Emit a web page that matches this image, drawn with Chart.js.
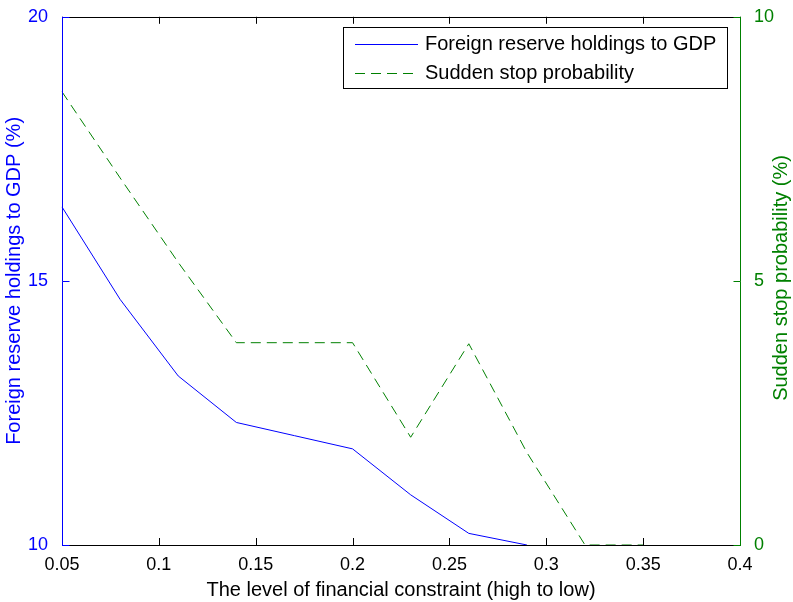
<!DOCTYPE html>
<html>
<head>
<meta charset="utf-8">
<script src="https://cdn.jsdelivr.net/npm/chart.js@4.4.0/dist/chart.umd.min.js"></script>
<style>
  html, body { margin: 0; padding: 0; background: #fff; }
</style>
</head>
<body>
<canvas id="chart" width="793" height="602"></canvas>
<script>
// values
const constraintLevels = [0.05, 0.08, 0.11, 0.14, 0.17, 0.2, 0.23, 0.26, 0.29, 0.32, 0.35];
const reserveToGdp = [16.4, 14.65, 13.2, 12.32, 12.07, 11.82, 10.95, 10.22, 10.0];
const suddenStopProb = [8.58, 6.95, 5.35, 3.83, 3.83, 3.83, 2.04, 3.81, 1.75, 0, 0];

const xTicks = [0.05, 0.1, 0.15, 0.2, 0.25, 0.3, 0.35, 0.4];
const leftTicks = [10, 15, 20];
const rightTicks = [0, 5, 10];

const BLUE = '#0000ff';
const GREEN = '#008000';
const FONT = '"Liberation Sans", Arial, sans-serif';
const tickLen = 7;
const rightTitle = 'Sudden stop probability (%)';

function toPoints(xs, ys) {
  return ys.map((y, i) => ({ x: xs[i], y: y }));
}

const boxAndLegend = {
  id: 'boxAndLegend',
  afterDatasetsDraw(chart) {
    const { ctx, chartArea: a, scales } = chart;
    ctx.save();
    ctx.lineWidth = 1;

    // x ticks, bottom and top, pointing inward
    ctx.strokeStyle = '#000';
    ctx.beginPath();
    scales.x.ticks.forEach(t => {
      const px = Math.round(scales.x.getPixelForValue(t.value)) + 0.5;
      ctx.moveTo(px, a.bottom); ctx.lineTo(px, a.bottom - tickLen);
      ctx.moveTo(px, a.top); ctx.lineTo(px, a.top + tickLen);
    });
    ctx.moveTo(a.left, Math.round(a.top) + 0.5); ctx.lineTo(a.right, Math.round(a.top) + 0.5);
    ctx.moveTo(a.left, Math.round(a.bottom) + 0.5); ctx.lineTo(a.right, Math.round(a.bottom) + 0.5);
    ctx.stroke();

    // left axis
    ctx.strokeStyle = BLUE;
    ctx.beginPath();
    const lx = Math.round(a.left) + 0.5;
    ctx.moveTo(lx, a.top); ctx.lineTo(lx, a.bottom + 1);
    scales.y.ticks.forEach(t => {
      const py = Math.round(scales.y.getPixelForValue(t.value)) + 0.5;
      ctx.moveTo(lx, py); ctx.lineTo(lx + tickLen, py);
    });
    ctx.stroke();

    // right axis
    ctx.strokeStyle = GREEN;
    ctx.beginPath();
    const rx = Math.round(a.right) + 0.5;
    ctx.moveTo(rx, a.top); ctx.lineTo(rx, a.bottom + 1);
    scales.y1.ticks.forEach(t => {
      const py = Math.round(scales.y1.getPixelForValue(t.value)) + 0.5;
      ctx.moveTo(rx, py); ctx.lineTo(rx - tickLen, py);
    });
    ctx.stroke();

    // right axis title, reading bottom to top like the left one
    ctx.fillStyle = GREEN;
    ctx.font = '20px ' + FONT;
    ctx.textAlign = 'center';
    ctx.textBaseline = 'middle';
    ctx.translate(781, 278);
    ctx.rotate(-Math.PI / 2);
    ctx.fillText(rightTitle, 0, 0);
    ctx.restore();

    // legend box
    ctx.save();
    const bx = 343.5, by = 27.5, bw = 384, bh = 61;
    ctx.fillStyle = '#fff';
    ctx.fillRect(bx, by, bw, bh);
    ctx.strokeStyle = '#000';
    ctx.strokeRect(bx, by, bw, bh);
    ctx.font = '20px ' + FONT;
    ctx.textBaseline = 'middle';
    ctx.textAlign = 'left';
    chart.data.datasets.forEach((ds, i) => {
      const y = Math.round(by + 16 + i * 29) + 0.5;
      ctx.strokeStyle = ds.borderColor;
      ctx.setLineDash(ds.borderDash || []);
      ctx.beginPath();
      ctx.moveTo(355, y); ctx.lineTo(418, y);
      ctx.stroke();
      ctx.setLineDash([]);
      ctx.fillStyle = '#000';
      ctx.fillText(ds.label, 425, y);
    });
    ctx.restore();
  }
};

new Chart(document.getElementById('chart'), {
  type: 'line',
  data: {
    datasets: [
      {
        label: 'Foreign reserve holdings to GDP',
        data: toPoints(constraintLevels, reserveToGdp),
        yAxisID: 'y',
        borderColor: BLUE,
        borderWidth: 1,
        pointRadius: 0,
        tension: 0,
        clip: false
      },
      {
        label: 'Sudden stop probability',
        data: toPoints(constraintLevels, suddenStopProb),
        yAxisID: 'y1',
        borderColor: GREEN,
        borderWidth: 1,
        borderDash: [10, 6],
        pointRadius: 0,
        tension: 0,
        clip: false
      }
    ]
  },
  options: {
    responsive: false,
    animation: false,
    devicePixelRatio: 1,
    layout: { padding: { top: 15, left: 0, right: 0, bottom: 0 } },
    plugins: { legend: { display: false }, tooltip: { enabled: false } },
    scales: {
      x: {
        type: 'linear',
        min: 0.05,
        max: 0.4,
        afterBuildTicks: s => { s.ticks = xTicks.map(v => ({ value: v })); },
        afterFit: s => { s.height = 57; },
        grid: { display: false },
        border: { display: false },
        ticks: {
          color: '#000',
          font: { family: FONT, size: 18 },
          padding: 1,
          maxRotation: 0,
          callback: v => String(Number(v.toFixed(2)))
        },
        title: {
          display: true,
          text: 'The level of financial constraint (high to low)',
          color: '#000',
          font: { family: FONT, size: 20 },
          padding: { top: 0, bottom: 0 }
        }
      },
      y: {
        position: 'left',
        min: 10,
        max: 20,
        afterBuildTicks: s => { s.ticks = leftTicks.map(v => ({ value: v })); },
        afterFit: s => { s.width = 62; },
        grid: { display: false },
        border: { display: false },
        ticks: { color: BLUE, font: { family: FONT, size: 18 }, padding: 6 },
        title: {
          display: true,
          text: 'Foreign reserve holdings to GDP (%)',
          color: BLUE,
          font: { family: FONT, size: 20 },
          padding: { top: 2, bottom: 0 }
        }
      },
      y1: {
        position: 'right',
        min: 0,
        max: 10,
        afterBuildTicks: s => { s.ticks = rightTicks.map(v => ({ value: v })); },
        afterFit: s => { s.width = 53; },
        grid: { display: false },
        border: { display: false },
        ticks: { color: GREEN, font: { family: FONT, size: 18 }, padding: 6 }
      }
    }
  },
  plugins: [boxAndLegend]
});
</script>
</body>
</html>
